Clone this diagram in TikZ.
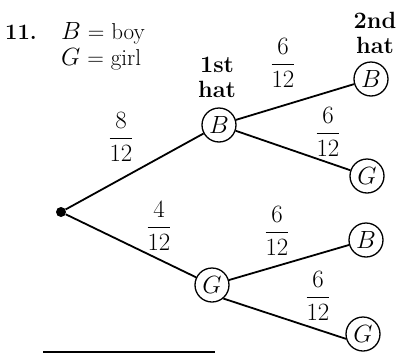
\documentclass[tikz,border=0pt]{standalone}
\usepackage{amsmath}
\begin{document}
\begin{tikzpicture}[x=1pt,y=-1pt,
  every node/.style={font=\fontsize{23}{27}\selectfont},
  outcome/.style={draw,circle,line width=1.3pt,minimum size=34pt,inner sep=0pt},
  rootdot/.style={fill,circle,minimum size=10pt,inner sep=0pt},
  branch/.style={line width=1.8pt},
  frac/.style={inner sep=0pt,font=\fontsize{25}{29}\selectfont},
  hdr/.style={font=\fontsize{23.5}{27}\selectfont\bfseries,align=center,inner sep=0pt}]
\useasboundingbox (0,0) rectangle (397,354);
% legend
\node[anchor=base west,inner sep=0pt,font=\fontsize{22}{26}\selectfont\bfseries] (num) at (5,39.5) {11.};
\node[anchor=base west,inner sep=0pt] (leg1) at (61,39.5) {$B$ = boy};
\node[anchor=base west,inner sep=0pt] (leg2) at (61,65.5) {$G$ = girl};
% headers
\node[hdr,anchor=base] (h1a) at (217,72) {1st};
\node[hdr,anchor=base] (h1b) at (217,97) {hat};
\node[hdr,anchor=base] (h2a) at (375,28) {2nd};
\node[hdr,anchor=base] (h2b) at (375,53) {hat};
% nodes
\node[rootdot] (root) at (61,212) {};
\node[outcome] (B1) at (219,125) {$B$};
\node[outcome] (G1) at (212,285) {$G$};
\node[outcome] (BB) at (371,79) {$B$};
\node[outcome] (BG) at (367,176) {$G$};
\node[outcome] (GB) at (366,240) {$B$};
\node[outcome] (GG) at (363,334) {$G$};
% branches
\draw[branch] (root) -- (B1);
\draw[branch] (root) -- (G1);
\draw[branch] (B1) -- (BB);
\draw[branch] (B1) -- (BG);
\draw[branch] (G1) -- (GB);
\draw[branch] (G1.-50) -- (GG.196);
% probabilities
\node[frac] (p1) at (121,137) {$\dfrac{8}{12}$};
\node[frac] (p2) at (159,226) {$\dfrac{4}{12}$};
\node[frac] (p3) at (283,63) {$\dfrac{6}{12}$};
\node[frac] (p4) at (328,132) {$\dfrac{6}{12}$};
\node[frac] (p5) at (277,231) {$\dfrac{6}{12}$};
\node[frac] (p6) at (318,296) {$\dfrac{6}{12}$};
% bottom rule
\coordinate (r1) at (43,352);
\coordinate (r2) at (215,352);
\draw[line width=1.5pt] (r1) -- (r2);
\end{tikzpicture}
\end{document}
